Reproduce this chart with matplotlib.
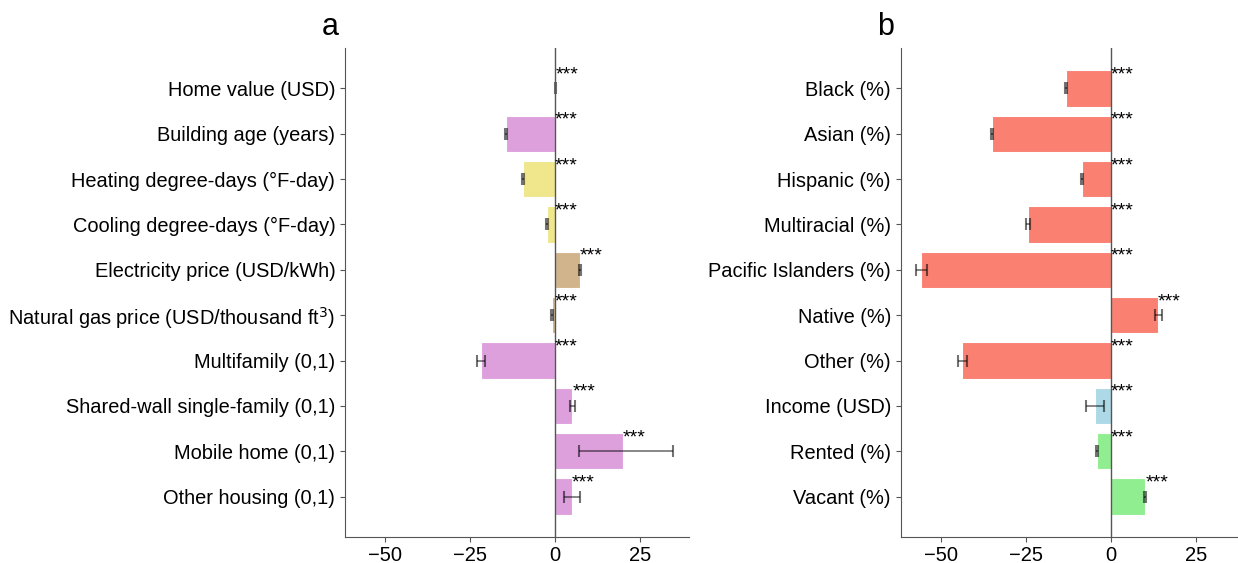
import numpy as np
import matplotlib
matplotlib.use('Agg')
import matplotlib.pyplot as plt

plt.rcParams['font.family'] = ['Liberation Sans', 'DejaVu Sans']

# panel a
labels_a = ['Home value (USD)', 'Building age (years)', 'Heating degree-days (°F-day)',
            'Cooling degree-days (°F-day)', 'Electricity price (USD/kWh)',
            'Natural gas price (USD/thousand ft$^3$)', 'Multifamily (0,1)',
            'Shared-wall single-family (0,1)', 'Mobile home (0,1)', 'Other housing (0,1)']
values_a = [0.1, -14.4, -9.4, -2.5, 7.3, -0.8, -21.8, 5.1, 20.0, 4.9]
err_lo_a = [0.05, 0.3, 0.4, 0.3, 0.3, 0.3, 1.1, 0.7, 13.1, 2.3]
err_hi_a = [0.05, 0.3, 0.4, 0.3, 0.3, 0.3, 1.3, 0.7, 14.8, 2.4]
colors_a = ['plum', 'plum', 'khaki', 'khaki', 'tan', 'tan', 'plum', 'plum', 'plum', 'plum']

# panel b
labels_b = ['Black (%)', 'Asian (%)', 'Hispanic (%)', 'Multiracial (%)',
            'Pacific Islanders (%)', 'Native (%)', 'Other (%)', 'Income (USD)',
            'Rented (%)', 'Vacant (%)']
values_b = [-13.2, -34.9, -8.5, -24.4, -55.7, 13.8, -43.8, -4.7, -4.1, 10.2]
err_lo_b = [0.3, 0.4, 0.4, 0.5, 1.5, 0.9, 1.2, 2.5, 0.3, 0.3]
err_hi_b = [0.3, 0.4, 0.4, 0.5, 1.6, 1.3, 1.4, 2.6, 0.3, 0.3]
colors_b = ['salmon'] * 7 + ['lightblue', 'lightgreen', 'lightgreen']

stars = '***'

fig = plt.figure(figsize=(12.38, 5.63), dpi=100)
ax_a = fig.add_axes([345 / 1238, 26 / 563, 344 / 1238, 489 / 563])
ax_b = fig.add_axes([900.7 / 1238, 26 / 563, 344 / 1238, 489 / 563])


def draw_panel(ax, labels, values, lo, hi, colors, letter):
    y = np.arange(len(labels))
    ax.barh(y, values, height=0.8, color=colors, edgecolor='white', linewidth=0.8)
    ax.errorbar(values, y, xerr=[lo, hi], fmt='none', ecolor='black', alpha=0.55,
                elinewidth=1.2, capsize=4, capthick=1.5)
    ax.axvline(0, color='#555555', lw=1)
    for yi, v in zip(y, values):
        ax.text(max(v, 0), yi - 0.3, stars, ha='left', va='center', fontsize=14)
    ax.set_yticks(y)
    ax.set_yticklabels(labels, fontsize=14.4)
    ax.set_ylim(9.89, -0.89)
    ax.set_xlim(-61.8, 39.4)
    ax.set_xticks([-50, -25, 0, 25])
    ax.set_xticklabels(['\u221250', '\u221225', '0', '25'], fontsize=14.5)
    for s in ['top', 'right']:
        ax.spines[s].set_visible(False)
    for s in ['left', 'bottom']:
        ax.spines[s].set_color('#555555')
    ax.tick_params(axis='both', color='#555555')
    ax.tick_params(axis='x', pad=3)
    ax.text(-0.044, 1.027, letter, transform=ax.transAxes, ha='center', va='baseline',
            fontsize=22)


draw_panel(ax_a, labels_a, values_a, err_lo_a, err_hi_a, colors_a, 'a')
draw_panel(ax_b, labels_b, values_b, err_lo_b, err_hi_b, colors_b, 'b')

fig.savefig('out.png', dpi=100)
